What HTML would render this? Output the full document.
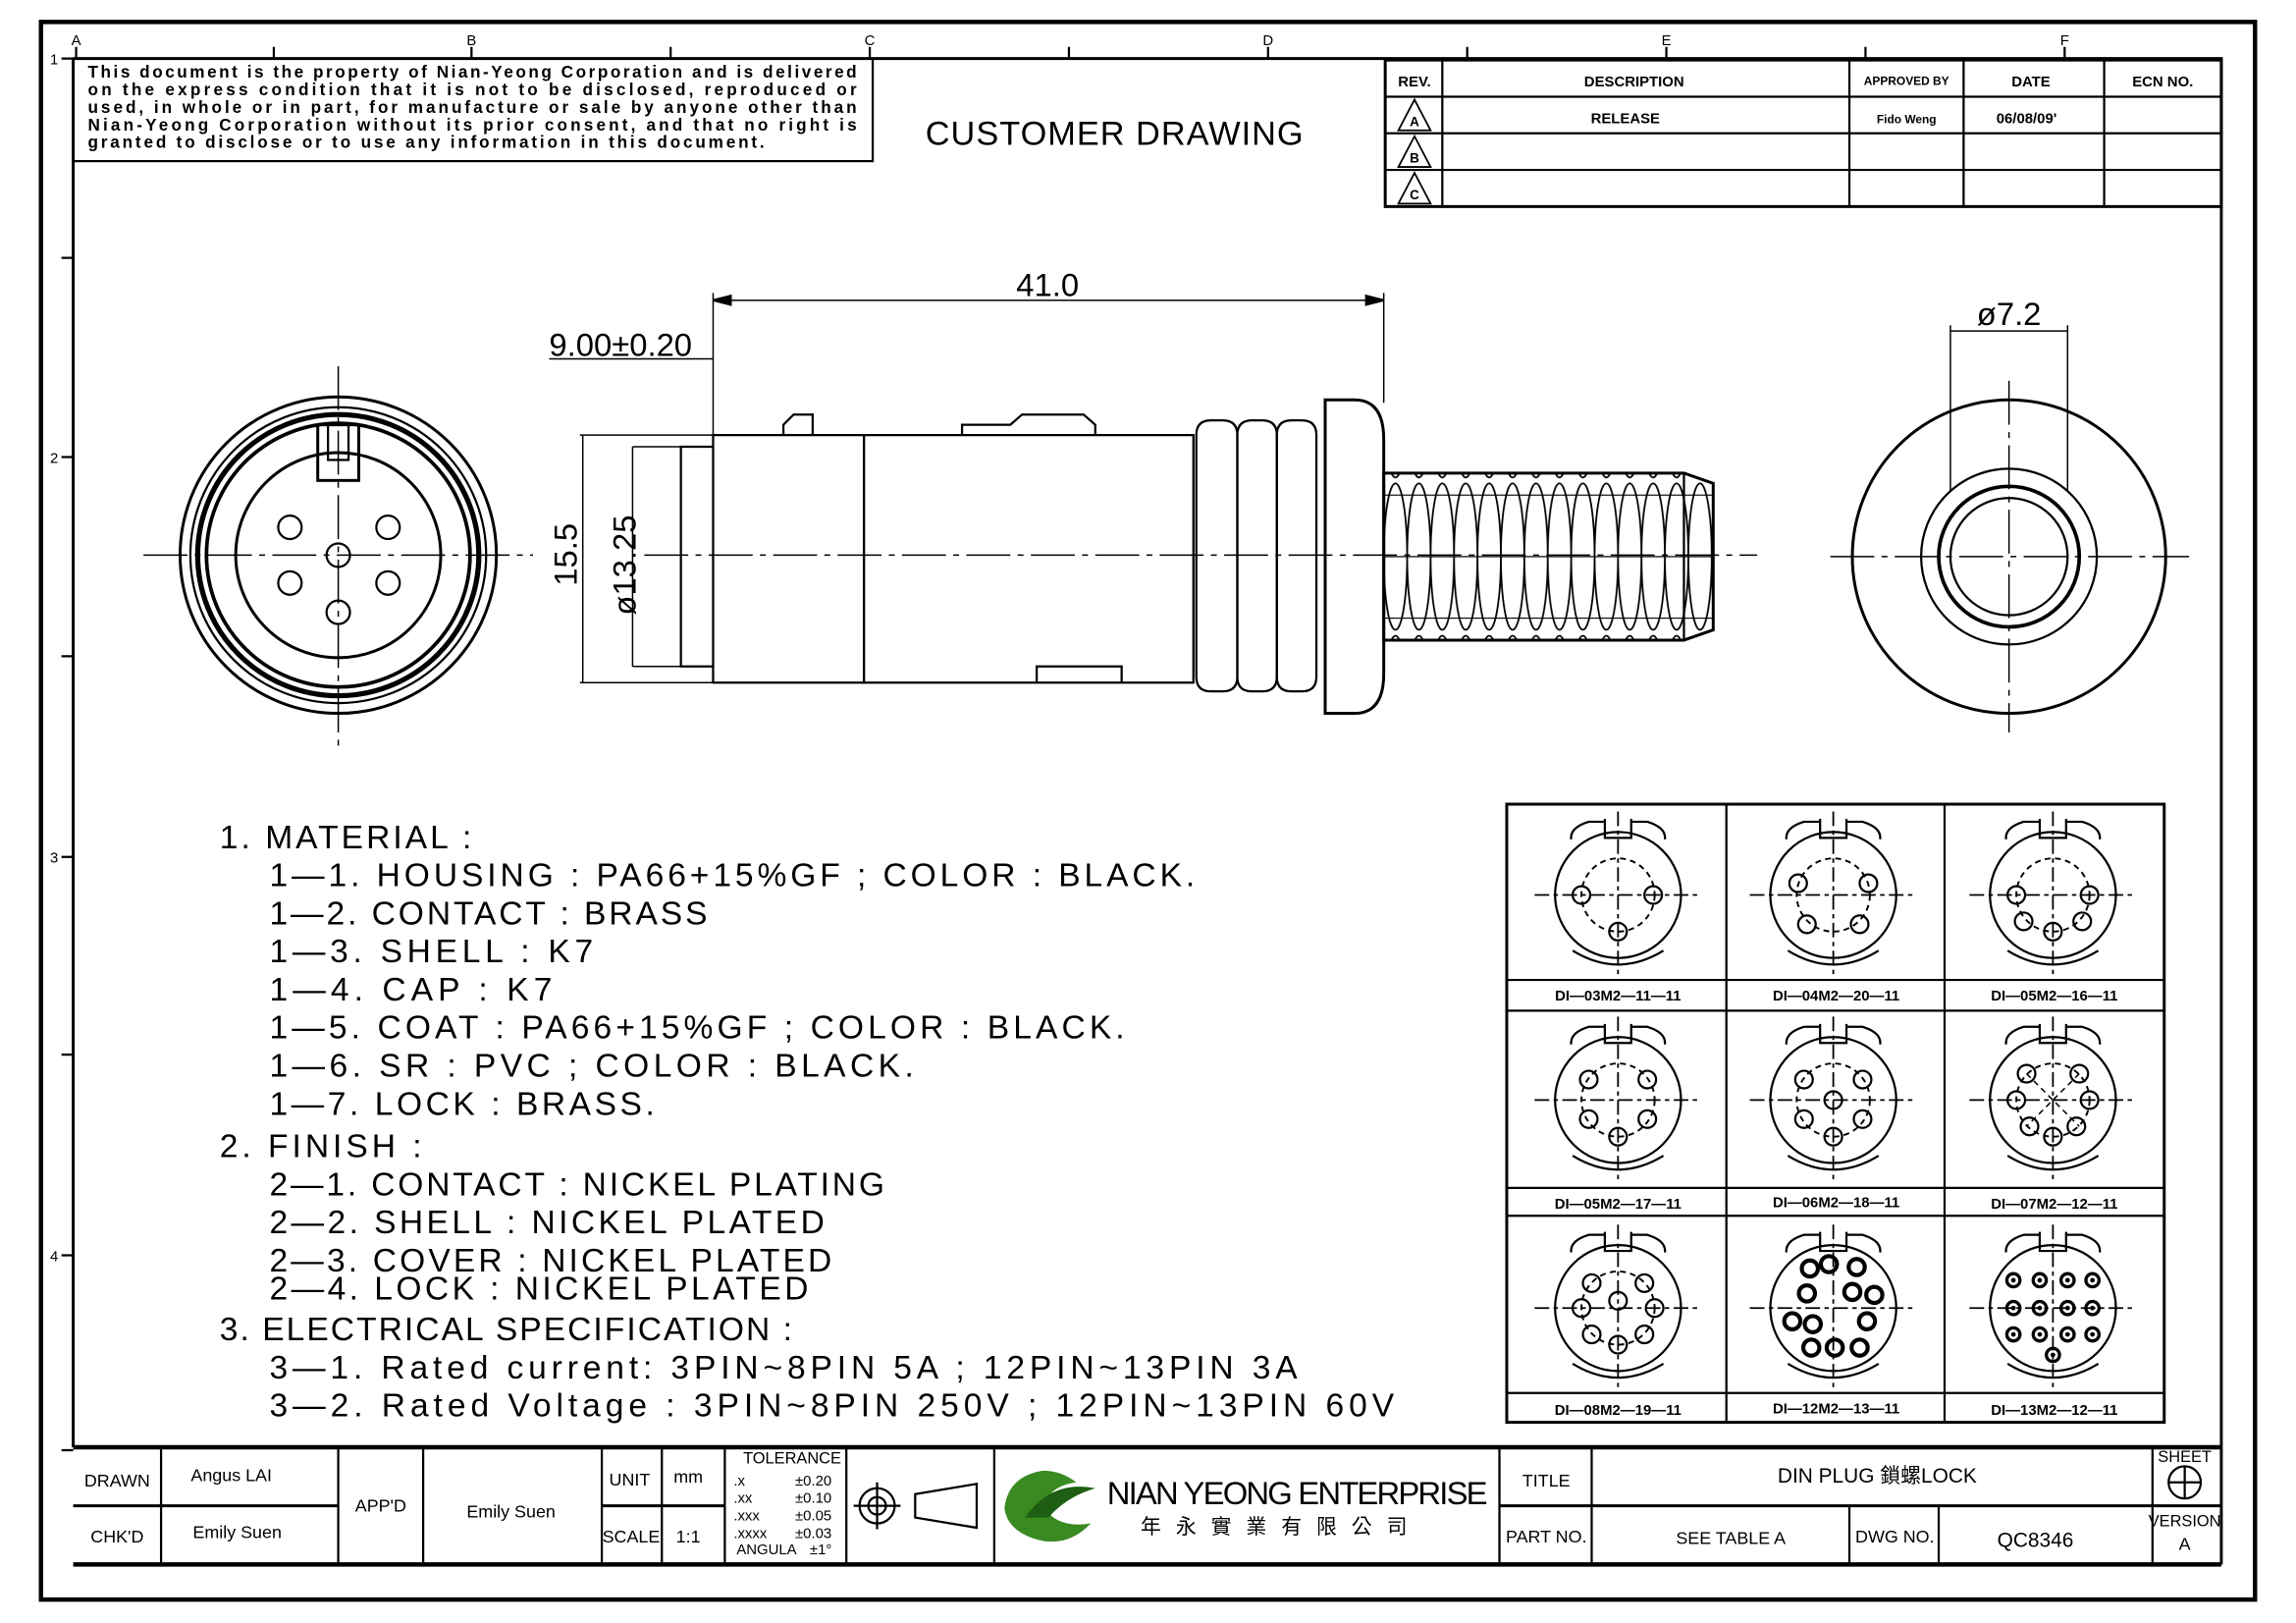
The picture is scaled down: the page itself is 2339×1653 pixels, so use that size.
<!DOCTYPE html>
<html><head><meta charset="utf-8"><style>
html,body{margin:0;padding:0;background:#fff}
svg{display:block}
text{font-family:"Liberation Sans","Noto Sans CJK TC",sans-serif;fill:#000}
</style></head><body>
<svg width="2339" height="1653" viewBox="0 0 1568 1108" preserveAspectRatio="none" xmlns="http://www.w3.org/2000/svg">
<defs>
<pattern id="bp" x="945" y="328" width="16" height="104" patternUnits="userSpaceOnUse">
<rect width="16" height="104" fill="#fff"/>
<ellipse cx="8" cy="52" rx="8" ry="50" fill="none" stroke="#000" stroke-width="1.2"/>
<path d="M0 10H16M0 94H16M0 52H16" stroke="#000" stroke-width="0.8"/>
</pattern>
<g id="cb" fill="none" stroke="#000" stroke-width="1.5">
<circle r="43"/>
<path d="M-9 -52V-39H9V-52M-9 -50H-20Q-33 -46 -32 -38M9 -50H20Q33 -46 32 -38M-31 38Q0 57 31 38"/>
<path d="M-57 0H57M0 -57V57" stroke-dasharray="10 3 3 3" stroke-width="1.2"/>
</g>
<circle id="dc" r="25" fill="none" stroke="#000" stroke-width="1.3" stroke-dasharray="4 3"/>
<g id="p"><circle r="6" fill="none" stroke="#000" stroke-width="1.5"/></g>
<g id="pb"><circle r="5.5" fill="none" stroke="#000" stroke-width="2.8"/></g>
<g id="pc"><circle r="4.5" fill="none" stroke="#000" stroke-width="2.2"/><circle r="1.6" fill="#000"/></g>
</defs>
<rect width="1568" height="1108" fill="#fff"/>
<g fill="none" stroke="#000">
<rect x="28" y="15" width="1512" height="1077" stroke-width="3"/>
<path d="M50 40H1517V1068M50 40V988" stroke-width="2"/>
<path d="M52 32V40M187 32V40M458 32V40M730 32V40M1002 32V40M1274 32V40M322 32V40M594 32V40M866 32V40M1138 32V40M1410 32V40" stroke-width="1.5"/>
<path d="M42 40H50M42 176H50M42 312H50M42 448H50M42 585H50M42 720H50M42 857H50M42 990H50" stroke-width="1.5"/>
<rect x="50" y="40" width="546" height="70" stroke-width="1.5"/>
<rect x="946" y="41" width="571" height="100" stroke-width="2"/>
<path d="M946 66H1517M946 91H1517M946 116H1517M985 41V141M1263 41V141M1341 41V141M1437 41V141" stroke-width="1.5"/>
<path d="M955 89L966 68L977 89ZM955 114L966 93L977 114ZM955 139L966 118L977 139Z" stroke-width="1.2"/>
</g>
<g font-size="11.5" font-weight="bold" lengthAdjust="spacingAndGlyphs">
<text x="60" y="53" textLength="525">This document is the property of Nian-Yeong Corporation and is delivered</text>
<text x="60" y="65" textLength="525">on  the  express condition that it is not to be disclosed, reproduced or</text>
<text x="60" y="77" textLength="525">used, in whole or in part, for manufacture or sale by anyone other than</text>
<text x="60" y="89" textLength="525">Nian-Yeong Corporation without its prior consent, and that no right is</text>
<text x="60" y="101" textLength="462">granted to disclose or to use any information in this document.</text>
</g>
<text x="632" y="99" font-size="23" textLength="258">CUSTOMER  DRAWING</text>
<g font-size="10" font-weight="bold" text-anchor="middle">
<text x="966" y="59">REV.</text><text x="1116" y="59">DESCRIPTION</text><text x="1302" y="58" font-size="8">APPROVED BY</text><text x="1387" y="59">DATE</text><text x="1477" y="59">ECN NO.</text>
<text x="1110" y="84">RELEASE</text><text x="1302" y="84" font-size="8">Fido Weng</text><text x="1384" y="84">06/08/09'</text>
<text x="966" y="86" font-size="9">A</text><text x="966" y="111" font-size="9">B</text><text x="966" y="136" font-size="9">C</text>
</g>
<g font-size="10" text-anchor="middle"><text x="52" y="31">A</text><text x="322" y="31">B</text><text x="594" y="31">C</text><text x="866" y="31">D</text><text x="1138" y="31">E</text><text x="1410" y="31">F</text>
<text x="37" y="44">1</text><text x="37" y="316">2</text><text x="37" y="589">3</text><text x="37" y="861">4</text></g>

<!-- front view -->
<g fill="none" stroke="#000" stroke-width="1.5">
<path d="M98 379H364M231 250V510" stroke-dasharray="30 5 4 5" stroke-width="1"/>
<circle cx="231" cy="379" r="108" stroke-width="2"/>
<circle cx="231" cy="379" r="101"/><circle cx="231" cy="379" r="96" stroke-width="3.5"/><circle cx="231" cy="379" r="90" stroke-width="2.5"/><circle cx="231" cy="379" r="70" stroke-width="2"/>
<rect x="217" y="290" width="28" height="38" stroke-width="2"/><rect x="224" y="290" width="14" height="24"/>
<circle cx="198" cy="360" r="8"/><circle cx="265" cy="360" r="8"/><circle cx="198" cy="398" r="8"/><circle cx="265" cy="398" r="8"/><circle cx="231" cy="379" r="8"/><circle cx="231" cy="418" r="8"/>
</g>

<!-- side view -->
<g fill="none" stroke="#000" stroke-width="1.5">
<path d="M487 200V305M945 200V275M487 205H945M375 245H487" stroke-width="1"/>
<path d="M487 205l12 -3v6zM945 205l-12 -3v6z" fill="#000"/>
<path d="M396 297H487M396 466H487M432 305H465M432 455H465M398 297V466M432 305V455" stroke-width="1"/>
<path d="M465 305H487V455H465ZM487 297H590V466H487Z"/>
<path d="M590 297H815V466H590Z"/>
<path d="M535 297V290L542 283H555V297M657 297V290H690L698 283H740L748 290V297M708 466V455H766V466"/>
<path d="M945 323H1150L1170 330V430L1150 437H945Z" fill="url(#bp)" stroke-width="2"/>
<path d="M1150 323V437" stroke-width="1.5"/>
<path d="M817 297Q817 287 827 287H835Q845 287 845 297V462Q845 472 835 472H827Q817 472 817 462Z"/>
<path d="M845 297Q845 287 855 287H862Q872 287 872 297V462Q872 472 862 472H855Q845 472 845 462Z"/>
<path d="M872 297Q872 287 882 287H889Q899 287 899 297V462Q899 472 889 472H882Q872 472 872 462Z"/>
<path d="M905 273H925Q945 273 945 300V460Q945 487 925 487H905Z" stroke-width="2"/>
<path d="M440 379H1200" stroke-dasharray="30 5 4 5" stroke-width="1"/>
</g>
<g font-size="22"><text x="694" y="202">41.0</text><text x="375" y="243">9.00±0.20</text>
<text x="0" y="0" transform="translate(394 400) rotate(-90)">15.5</text>
<text x="0" y="0" transform="translate(434 420) rotate(-90)">ø13.25</text>
<text x="1350" y="222">ø7.2</text></g>

<!-- right view -->
<g fill="none" stroke="#000" stroke-width="1.5">
<path d="M1250 380H1495M1372 260V500" stroke-dasharray="30 5 4 5" stroke-width="1"/>
<circle cx="1372" cy="380" r="107" stroke-width="2"/><circle cx="1372" cy="380" r="60"/><circle cx="1372" cy="380" r="48" stroke-width="2.5"/><circle cx="1372" cy="380" r="40"/>
<path d="M1332 222V335M1412 222V335M1332 226H1412" stroke-width="1"/>
</g>

<!-- notes -->
<g font-size="22.5" lengthAdjust="spacing">
<text x="150" y="579" textLength="172">1.  MATERIAL  :</text>
<text x="184" y="605" textLength="632">1—1.  HOUSING  :  PA66+15%GF  ;  COLOR  :  BLACK.</text>
<text x="184" y="631" textLength="299">1—2.  CONTACT  :  BRASS</text>
<text x="184" y="657" textLength="221">1—3.  SHELL  :  K7</text>
<text x="184" y="683" textLength="193">1—4.  CAP  :  K7</text>
<text x="184" y="709" textLength="584">1—5.  COAT  :  PA66+15%GF  ;  COLOR  :  BLACK.</text>
<text x="184" y="735" textLength="440">1—6.  SR  :  PVC  ;  COLOR  :  BLACK.</text>
<text x="184" y="761" textLength="263">1—7.  LOCK  :  BRASS.</text>
<text x="150" y="790" textLength="138">2.  FINISH  :</text>
<text x="184" y="816" textLength="420">2—1.  CONTACT  :  NICKEL  PLATING</text>
<text x="184" y="842" textLength="379">2—2.  SHELL  :  NICKEL  PLATED</text>
<text x="184" y="868" textLength="384">2—3.  COVER  :  NICKEL  PLATED</text>
<text x="184" y="887" textLength="368">2—4.  LOCK  :  NICKEL  PLATED</text>
<text x="150" y="915" textLength="391">3.  ELECTRICAL  SPECIFICATION  :</text>
<text x="184" y="941" textLength="702">3—1.  Rated  current:  3PIN~8PIN  5A  ;  12PIN~13PIN  3A</text>
<text x="184" y="967" textLength="768">3—2.  Rated  Voltage  :  3PIN~8PIN  250V  ;  12PIN~13PIN  60V</text>
</g>

<!-- pin table -->
<g fill="none" stroke="#000" stroke-width="1.5">
<rect x="1029" y="549" width="449" height="422" stroke-width="2"/>
<path d="M1029 690H1478M1029 830H1478M1179 549V971M1328 549V971M1029 669H1478M1029 811H1478M1029 951H1478"/>
</g>
<g transform="translate(1105 611)"><use href="#cb"/><use href="#dc"/><use href="#p" x="-25"/><use href="#p" x="24"/><use href="#p" y="25"/></g>
<g transform="translate(1252 611)"><use href="#cb"/><use href="#dc"/><use href="#p" x="-24" y="-8"/><use href="#p" x="24" y="-8"/><use href="#p" x="-18" y="20"/><use href="#p" x="18" y="20"/></g>
<g transform="translate(1402 611)"><use href="#cb"/><use href="#dc"/><use href="#p" x="-25"/><use href="#p" x="25"/><use href="#p" y="25"/><use href="#p" x="-20" y="18"/><use href="#p" x="20" y="18"/></g>
<g transform="translate(1105 751)"><use href="#cb"/><use href="#dc"/><use href="#p" x="-20" y="-14"/><use href="#p" x="20" y="-14"/><use href="#p" x="-20" y="13"/><use href="#p" x="20" y="13"/><use href="#p" y="25"/></g>
<g transform="translate(1252 751)"><use href="#cb"/><use href="#dc"/><use href="#p" x="-20" y="-14"/><use href="#p" x="20" y="-14"/><use href="#p" x="-20" y="13"/><use href="#p" x="20" y="13"/><use href="#p" y="25"/><use href="#p"/></g>
<g transform="translate(1402 751)"><use href="#cb"/><use href="#dc"/><path d="M-18 -18L18 18M18 -18L-18 18" stroke="#000" stroke-dasharray="4 3"/><use href="#p" x="-18" y="-18"/><use href="#p" x="18" y="-18"/><use href="#p" x="-25"/><use href="#p" x="25"/><use href="#p" x="-16" y="18"/><use href="#p" x="16" y="18"/><use href="#p" y="25"/></g>
<g transform="translate(1105 893)"><use href="#cb"/><use href="#dc"/><use href="#p" x="-18" y="-17"/><use href="#p" x="18" y="-17"/><use href="#p" y="-5"/><use href="#p" x="-25"/><use href="#p" x="25"/><use href="#p" x="-18" y="18"/><use href="#p" x="18" y="18"/><use href="#p" y="25"/></g>
<g transform="translate(1252 893)"><use href="#cb"/><use href="#pb" x="-16" y="-27"/><use href="#pb" x="-3" y="-30"/><use href="#pb" x="16" y="-28"/><use href="#pb" x="-18" y="-10"/><use href="#pb" x="13" y="-11"/><use href="#pb" x="28" y="-9"/><use href="#pb" x="-28" y="9"/><use href="#pb" x="-14" y="11"/><use href="#pb" x="23" y="9"/><use href="#pb" x="-15" y="27"/><use href="#pb" x="1" y="27"/><use href="#pb" x="18" y="27"/></g>
<g transform="translate(1402 893)"><use href="#cb"/><use href="#pc" x="-27" y="-19"/><use href="#pc" x="-9" y="-19"/><use href="#pc" x="10" y="-19"/><use href="#pc" x="27" y="-19"/><use href="#pc" x="-27"/><use href="#pc" x="-9"/><use href="#pc" x="10"/><use href="#pc" x="27"/><use href="#pc" x="-27" y="18"/><use href="#pc" x="-9" y="18"/><use href="#pc" x="10" y="18"/><use href="#pc" x="27" y="18"/><use href="#pc" y="32"/></g>
<g font-size="10" font-weight="bold" text-anchor="middle">
<text x="1105" y="683">DI—03M2—11—11</text><text x="1254" y="683">DI—04M2—20—11</text><text x="1403" y="683">DI—05M2—16—11</text>
<text x="1105" y="825">DI—05M2—17—11</text><text x="1254" y="824">DI—06M2—18—11</text><text x="1403" y="825">DI—07M2—12—11</text>
<text x="1105" y="966">DI—08M2—19—11</text><text x="1254" y="965">DI—12M2—13—11</text><text x="1403" y="966">DI—13M2—12—11</text>
</g>

<!-- title block -->
<g fill="none" stroke="#000" stroke-width="1.5">
<path d="M50 988H1517M50 1068H1517" stroke-width="3"/>
<path d="M50 1028H231M411 1028H495M1024 1028H1517" stroke-width="2"/>
<path d="M110 988V1068M231 988V1068M289 988V1068M411 988V1068M452 988V1068M495 988V1068M578 988V1068M679 988V1068M1024 988V1068M1087 988V1068M1263 1028V1068M1324 1028V1068M1470 988V1068"/>
<circle cx="599" cy="1028" r="12"/><circle cx="599" cy="1028" r="6"/><path d="M583 1028H615M599 1012V1044"/>
<path d="M625 1020L667 1013V1043L625 1036Z"/>
<circle cx="1492" cy="1012" r="11"/><path d="M1481 1012H1503M1492 1001V1023"/>
</g>
<path d="M686 1030Q688 1008 712 1004Q725 1004 735 1012Q718 1014 712 1028Q722 1044 745 1040Q728 1058 705 1050Q688 1044 686 1030Z" fill="#3a8a22"/>
<path d="M700 1036Q718 1010 748 1016Q728 1022 716 1036Z" fill="#1d5e12"/>
<g font-size="12" text-anchor="middle">
<text x="80" y="1015">DRAWN</text><text x="158" y="1011">Angus LAI</text><text x="80" y="1053">CHK'D</text><text x="162" y="1050">Emily Suen</text>
<text x="260" y="1032">APP'D</text><text x="349" y="1036">Emily Suen</text>
<text x="430" y="1014">UNIT</text><text x="470" y="1012">mm</text><text x="431" y="1053">SCALE</text><text x="470" y="1053">1:1</text>
<text x="541" y="999" font-size="11">TOLERANCE</text>
<text x="1056" y="1015">TITLE</text><text x="1056" y="1053">PART NO.</text><text x="1182" y="1054">SEE  TABLE  A</text>
<text x="1294" y="1053">DWG NO.</text><text x="1390" y="1056" font-size="14">QC8346</text>
<text x="1492" y="998" font-size="11">SHEET</text><text x="1492" y="1042" font-size="11">VERSION</text><text x="1492" y="1058">A</text>
<text x="1282" y="1012" font-size="14">DIN PLUG 鎖螺LOCK</text>
</g>
<g font-size="10"><text x="501" y="1014">.x</text><text x="501" y="1026">.xx</text><text x="501" y="1038">.xxx</text><text x="501" y="1050">.xxxx</text><text x="503" y="1061">ANGULA</text>
<text x="543" y="1014">±0.20</text><text x="543" y="1026">±0.10</text><text x="543" y="1038">±0.05</text><text x="543" y="1050">±0.03</text><text x="553" y="1061">±1°</text></g>
<text x="756" y="1027" font-size="22" textLength="260">NIAN YEONG ENTERPRISE</text>
<text x="779" y="1047" font-size="14" letter-spacing="10">年永實業有限公司</text>
</svg>
</body></html>
